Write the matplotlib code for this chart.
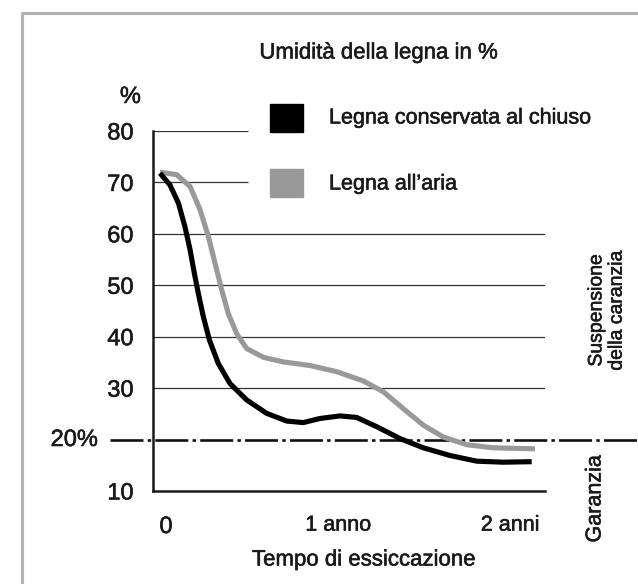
import numpy as np
import matplotlib.pyplot as plt
from matplotlib.lines import Line2D
from matplotlib.patches import Rectangle
import matplotlib.transforms as mtransforms
import matplotlib.patheffects as pe

plt.rcParams['font.family'] = ['Liberation Sans', 'DejaVu Sans']

# moisture curves (x in years, y in %)
indoor_x = [-0.035, 0.023, 0.072, 0.110, 0.140, 0.165, 0.188, 0.217, 0.252, 0.304,
            0.372, 0.469, 0.585, 0.702, 0.798, 0.895, 1.012, 1.109, 1.225, 1.360,
            1.496, 1.651, 1.806, 1.961, 2.126]
indoor_y = [71.8, 69.5, 66.0, 61.4, 56.9, 52.3, 48.4, 43.9, 39.4, 34.8,
            30.9, 27.7, 25.1, 23.6, 23.3, 24.1, 24.6, 24.3, 22.5, 20.2,
            18.4, 16.9, 15.8, 15.6, 15.7]
outdoor_x = [-0.035, 0.062, 0.140, 0.198, 0.246, 0.285, 0.324, 0.362, 0.411, 0.469,
             0.566, 0.682, 0.837, 0.992, 1.147, 1.263, 1.380, 1.496, 1.612, 1.748,
             1.903, 2.145]
outdoor_y = [72.0, 71.5, 69.2, 64.7, 59.5, 54.3, 49.1, 44.5, 40.6, 37.7,
             36.0, 35.1, 34.4, 33.2, 31.4, 29.3, 26.0, 22.8, 20.5, 19.0,
             18.4, 18.2]

y_ticks = [10, 30, 40, 50, 60, 70, 80]
full_grid = [30, 40, 50, 60]
short_grid = [70, 80]
limit_value = 20
x_ticks = [1, 2]
x_labels = ["1 anno", "2 anni"]

W, H = 638, 584
fig = plt.figure(figsize=(W / 100, H / 100), dpi=100)

def fx(px):
    return px / W

def fy(py):
    return 1 - py / H

tc = "#1a1a1a"
# slightly heavier text, like the original typeface
bold_fx = [pe.withStroke(linewidth=0.4, foreground=tc)]

ax = fig.add_axes([fx(153), fy(491), fx(545) - fx(153), fy(131) - fy(491)])
ax.set_xlim(-0.0756, 2.2035)
ax.set_ylim(10, 80)

for s in ["top", "right"]:
    ax.spines[s].set_visible(False)
for s in ["left", "bottom"]:
    ax.spines[s].set_linewidth(1.8)
    ax.spines[s].set_color("#1a1a1a")

ax.hlines(full_grid, -0.0756, 2.2035, color="#333333", lw=0.9, zorder=1)
ax.hlines(short_grid, -0.0756, 0.477, color="#333333", lw=0.9, zorder=1)

# 20% limit line, running across the whole figure
trans = mtransforms.blended_transform_factory(fig.transFigure, ax.transData)
ax.add_line(Line2D([fx(110), 1.0], [limit_value, limit_value], transform=trans,
                   color="#111111", lw=1.9, ls=(0, (12.5, 1.6, 1.3, 1.6)),
                   clip_on=False, zorder=2))

ax.plot(outdoor_x, outdoor_y, color="#999999", lw=3.7, solid_joinstyle="round",
        solid_capstyle="butt", zorder=3)
ax.plot(indoor_x, indoor_y, color="#000000", lw=3.7, solid_joinstyle="round",
        solid_capstyle="butt", zorder=4)

ax.set_yticks(y_ticks)
ax.set_yticklabels([str(v) for v in y_ticks])
ax.tick_params(axis="y", length=0, pad=14, labelsize=17, labelcolor=tc)
ax.set_xticks(x_ticks)
ax.set_xticklabels(x_labels)
ax.tick_params(axis="x", length=0, pad=17, labelsize=15.5, labelcolor=tc)
for lab in ax.get_xticklabels() + ax.get_yticklabels():
    lab.set_path_effects(bold_fx)

texts = []
texts.append(fig.text(fx(166), fy(527), "0", ha="center", va="center", fontsize=17, color=tc))
texts.append(fig.text(fx(98), fy(440), "20%", ha="right", va="center", fontsize=17, color=tc))
texts.append(fig.text(fx(141), fy(97), "%", ha="right", va="center", fontsize=17, color=tc))

texts.append(fig.text(fx(379), fy(53), "Umidità della legna in %", ha="center", va="center",
                      fontsize=16, color=tc))
texts.append(fig.text(fx(364), fy(560), "Tempo di essiccazione", ha="center", va="center",
                      fontsize=16, color=tc))

# legend
fig.patches.append(Rectangle((fx(270), fy(132)), fx(303) - fx(270), fy(104) - fy(132),
                             transform=fig.transFigure, color="#000000"))
fig.patches.append(Rectangle((fx(270), fy(197)), fx(303) - fx(270), fy(169) - fy(197),
                             transform=fig.transFigure, color="#999999"))
texts.append(fig.text(fx(329), fy(118), "Legna conservata al chiuso", ha="left", va="center",
                      fontsize=15.5, color=tc))
texts.append(fig.text(fx(329), fy(184), "Legna all\u2019aria", ha="left", va="center",
                      fontsize=15.5, color=tc))

texts.append(fig.text(fx(607), fy(310), "Suspensione\ndella caranzia", ha="center",
                      va="center", rotation=90, fontsize=14, color=tc, linespacing=1.25))
texts.append(fig.text(fx(595), fy(499), "Garanzia", ha="center", va="center",
                      rotation=90, fontsize=15.5, color=tc))
for t in texts:
    t.set_path_effects(bold_fx)

# grey frame (top and left edges)
fig.add_artist(Line2D([fx(22), fx(22), 1.0], [0.0, fy(13), fy(13)],
                      transform=fig.transFigure, color="#b3b3b3", lw=2.2))

fig.savefig("out.png", dpi=100)
